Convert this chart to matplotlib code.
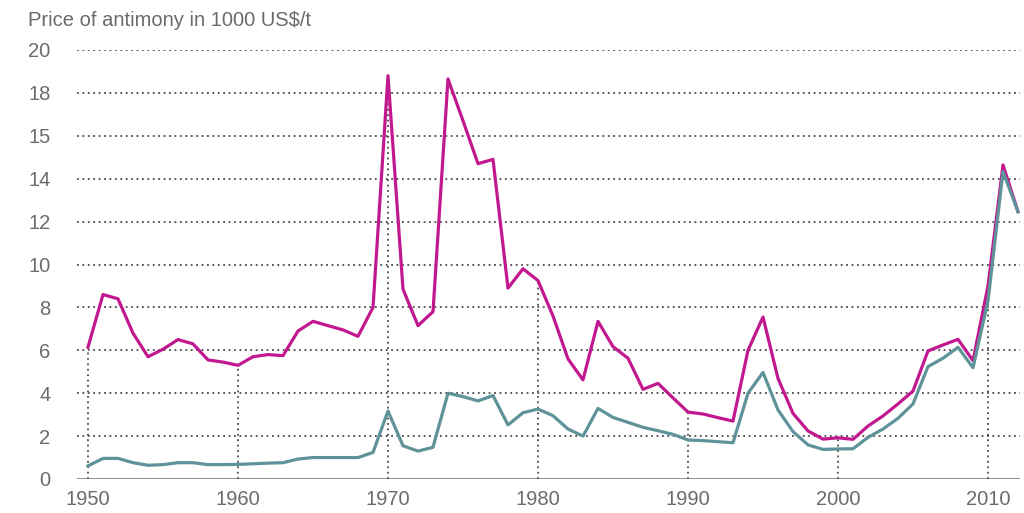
import matplotlib.pyplot as plt
import numpy as np

years = list(range(1950, 2013))

# price series, 1000 US$/t
price_magenta = [6.15, 8.6, 8.4, 6.8, 5.7, 6.05, 6.5, 6.3, 5.55, 5.45,
                 5.3, 5.7, 5.8, 5.75, 6.9, 7.35, 7.15, 6.95, 6.65, 8.0,
                 18.8, 8.85, 7.15, 7.8, 18.65, 16.7, 14.7, 14.9, 8.9, 9.8,
                 9.25, 7.6, 5.6, 4.62, 7.35, 6.17, 5.63, 4.18, 4.46, 3.78,
                 3.12, 3.03, 2.86, 2.7, 6.0, 7.55, 4.69, 3.06, 2.24, 1.86,
                 1.92, 1.85, 2.47, 2.94, 3.5, 4.1, 5.97, 6.25, 6.51, 5.52,
                 9.0, 14.64, 12.46]
price_teal = [0.61, 0.96, 0.96, 0.76, 0.64, 0.67, 0.76, 0.76, 0.67, 0.67,
              0.68, 0.71, 0.74, 0.76, 0.93, 1.0, 1.0, 1.0, 1.0, 1.24,
              3.17, 1.55, 1.3, 1.48, 4.0, 3.84, 3.64, 3.89, 2.52, 3.09,
              3.26, 2.95, 2.33, 2.0, 3.29, 2.87, 2.64, 2.41, 2.25, 2.08,
              1.82, 1.79, 1.74, 1.69, 4.0, 4.97, 3.22, 2.21, 1.59, 1.38,
              1.4, 1.41, 1.94, 2.33, 2.83, 3.5, 5.24, 5.63, 6.14, 5.19,
              8.3, 14.33, 12.46]

y_ticks = [0, 2, 4, 6, 8, 10, 12, 14, 16, 18, 20]
y_labels = ["0", "2", "4", "6", "8", "10", "12", "14", "15", "18", "20"]
x_ticks = [1950, 1960, 1970, 1980, 1990, 2000, 2010]

magenta = "#C2188F"
teal = "#5E9399"
grid_c = "#4a4a4a"
text_c = "#6b6b6b"

plt.rcParams["font.family"] = ["Liberation Sans", "DejaVu Sans"]

fig = plt.figure(figsize=(10.24, 5.13), dpi=100)
ax = fig.add_axes([77 / 1024, 1 - 479 / 513, (1020 - 77) / 1024, (479 - 50) / 513])

x0 = 1950 - 11 / 15
x1 = 1950 + 932 / 15
ax.set_xlim(x0, x1)
ax.set_ylim(0, 20)

# horizontal dotted grid
ax.hlines(y_ticks[1:], x0, x1, colors=grid_c, linestyles=(0, (1, 2)), lw=1.3, zorder=1)
# vertical dotted lines up to the magenta curve at decade years
vt = [price_magenta[years.index(y)] for y in x_ticks]
ax.vlines(x_ticks, 0, vt, colors=grid_c, linestyles=(0, (1, 2)), lw=1.3, zorder=1)

ax.plot(years, price_magenta, color=magenta, lw=2.3, zorder=3, clip_on=False)
ax.plot(years, price_teal, color=teal, lw=2.3, zorder=4, clip_on=False)

ax.axhline(0, color="#6a6a6a", lw=1.8, zorder=5)

for s in ax.spines.values():
    s.set_visible(False)

ax.set_yticks(y_ticks)
ax.set_yticklabels(y_labels)
ax.set_xticks(x_ticks)
ax.tick_params(axis="both", length=0, labelsize=14.5, labelcolor=text_c)
ax.tick_params(axis="y", pad=19)
ax.tick_params(axis="x", pad=8)
for lab in ax.get_yticklabels():
    lab.set_horizontalalignment("right")

fig.text(28 / 1024, 1 - 20 / 513, "Price of antimony in 1000 US$/t",
         fontsize=14.5, color=text_c, va="center", ha="left")

fig.savefig("out.png", dpi=100)
